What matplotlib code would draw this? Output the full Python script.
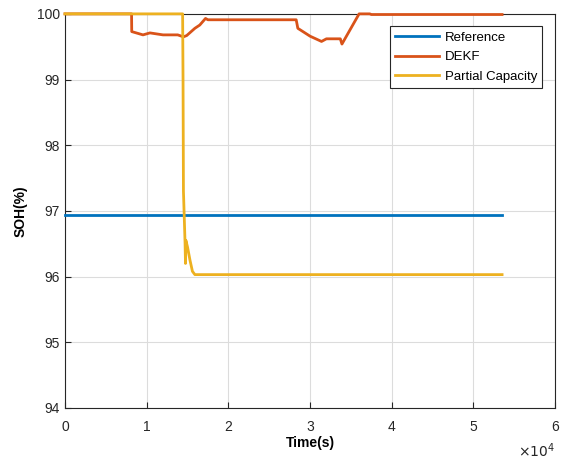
import numpy as np
import matplotlib.pyplot as plt
from matplotlib.ticker import FuncFormatter

plt.rcParams['font.family'] = ['Liberation Sans', 'DejaVu Sans']

# reference SOH (flat)
ref_t = [0, 53500]
ref_soh = [96.94, 96.94]

# DEKF estimate
dekf_t = [0, 8150, 8170, 9550, 10400, 12000, 13800, 14500, 14900, 15900, 16500,
          17200, 17500, 28300, 28500, 30000, 31400, 32000, 33700, 33900, 36000,
          37300, 37500, 53500]
dekf_soh = [100.0, 100.0, 99.73, 99.68, 99.71, 99.68, 99.68, 99.65, 99.67, 99.78, 99.83,
            99.93, 99.91, 99.91, 99.78, 99.66, 99.58, 99.62, 99.62, 99.54, 100.0,
            100.0, 99.99, 99.99]

# partial capacity estimate
pc_t = [0, 14400, 14450, 14500, 14600, 14700, 14750, 14800, 15000, 15300, 15600, 15900, 53500]
pc_soh = [100.0, 100.0, 99.0, 97.3, 96.9, 96.5, 96.2, 96.55, 96.45, 96.25, 96.08, 96.03, 96.03]

fig = plt.figure(figsize=(5.7, 4.62), dpi=100)
ax = fig.add_axes([0.114, 0.117, 0.86, 0.853])

ax.plot(ref_t, ref_soh, color='#0072BD', lw=2, label='Reference', clip_on=False, zorder=3)
ax.plot(dekf_t, dekf_soh, color='#D95319', lw=2, label='DEKF', clip_on=False, zorder=3)
ax.plot(pc_t, pc_soh, color='#EDB120', lw=2, label='Partial Capacity', clip_on=False, zorder=3)

ax.set_xlim(0, 60000)
ax.set_ylim(94, 100)
ax.set_xticks(np.arange(0, 60001, 10000))
ax.set_yticks(np.arange(94, 100.1, 1))
ax.xaxis.set_major_formatter(FuncFormatter(lambda v, p: f'{v / 1e4:g}'))

ax.grid(True, color='#dcdcdc', lw=0.8)
ax.set_axisbelow(True)
ax.tick_params(direction='in', length=4, labelsize=10, colors='#262626', top=False, right=False)
ax.tick_params(axis='x', pad=9)
for s in ax.spines.values():
    s.set_color('#262626')
    s.set_linewidth(0.8)
    s.set_zorder(2.5)

ax.set_xlabel('Time(s)', fontsize=10, fontweight='bold', labelpad=1)
ax.set_ylabel('SOH(%)', fontsize=10, fontweight='bold', labelpad=7)
ax.text(1.0, -0.085, r'$\times10^4$', transform=ax.transAxes, ha='right', va='top',
        fontsize=10, color='#262626')

leg = ax.legend(loc='upper right', bbox_to_anchor=(0.987, 0.985), fontsize=9.5,
                frameon=True, fancybox=False, edgecolor='#262626', framealpha=1,
                handlelength=3.3, borderpad=0.4, labelspacing=0.55, handletextpad=0.45)
leg.get_frame().set_linewidth(0.8)
leg.set_zorder(5)

fig.savefig('out.png', dpi=100)
